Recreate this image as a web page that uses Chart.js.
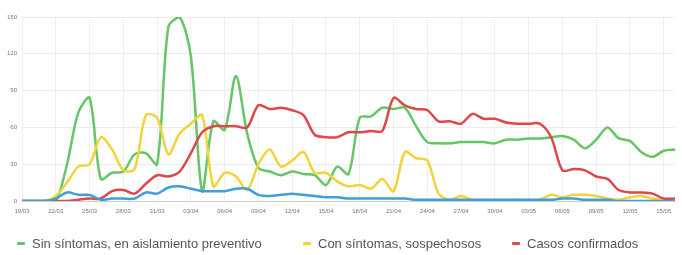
<!DOCTYPE html>
<html>
<head>
<meta charset="utf-8">
<script src="https://cdn.jsdelivr.net/npm/chart.js@4/dist/chart.umd.min.js"></script>
<style>
html,body{margin:0;padding:0;background:#fff;}
#wrap{position:relative;width:682px;height:255px;overflow:hidden;}
#c{position:absolute;left:0;top:0;}
#legend{position:absolute;left:0;top:234px;width:682px;height:18px;
  font-family:"Liberation Sans", Arial, Helvetica, sans-serif;font-size:13px;color:#555;white-space:nowrap;}
.item{position:absolute;top:0;height:18px;display:flex;align-items:center;}
.mark{display:inline-block;width:8px;height:3px;margin-right:7px;border-radius:1px;}
</style>
</head>
<body>
<div id="wrap"><canvas id="c" width="682" height="255"></canvas><div id="legend"></div></div>
<script>
const labels = ["19/03","20/03","21/03","22/03","23/03","24/03","25/03","26/03","27/03","28/03","29/03","30/03","31/03",
"01/04","02/04","03/04","04/04","05/04","06/04","07/04","08/04","09/04","10/04","11/04","12/04","13/04","14/04","15/04","16/04","17/04","18/04","19/04","20/04","21/04","22/04","23/04","24/04","25/04","26/04","27/04","28/04","29/04","30/04",
"01/05","02/05","03/05","04/05","05/05","06/05","07/05","08/05","09/05","10/05","11/05","12/05","13/05","14/05","15/05","16/05"];

const sinSintomas = [0,0,0,0,30,72,84,18,23,24,38,39,30,142,150,118,8,65,58,102,55,27,24,21,24,22,21,13,28,22,68,69,76,75,76,61,48,47,47,48,48,48,47,50,50,51,51,52,53,50,43,50,60,51,49,40,36,41,42];
const conSintomas = [0,0,0,4,15,28,30,52,42,25,26,70,68,38,55,63,70,12,23,20,9,30,42,28,33,40,23,23,16,12,13,10,18,8,40,35,33,6,1,4,1,0,0,0,1,0,1,5,3,5,5,4,2,1,3,4,2,1,0];
const confirmados = [0,0,0,0,0,1,2,2,8,9,6,14,21,20,24,39,56,61,61,61,60,78,75,76,74,70,54,52,52,56,56,57,57,84,78,75,74,65,65,63,71,67,67,64,63,63,63,52,25,26,25,20,18,9,7,7,6,2,2];
const otros = [0,0,0,2,7,5,5,1,2,2,2,7,6,11,12,10,8,8,8,10,10,5,4,5,6,5,4,3,3,2,2,2,2,2,2,1,1,1,1,1,1,1,1,1,1,1,1,1,2,2,1,1,1,0,0,0,0,0,0];

const seriesNames = ["Sin síntomas, en aislamiento preventivo","Con síntomas, sospechosos","Casos confirmados",""];
const yTicks = [0,30,60,90,120,150];

const green = "#64c664", yellow = "#f1d43a", red = "#e0474a", blue = "#3f9edb";

function ds(label, data, color, order){
  return {label, data, borderColor: color, backgroundColor: color, borderWidth: 2.5,
    pointRadius: 0, pointHoverRadius: 0, tension: 0.3, fill: false, order};
}

const chart = new Chart(document.getElementById('c'), {
  type: 'line',
  data: {
    labels: labels,
    datasets: [
      ds(seriesNames[0], sinSintomas, green, 3),
      ds(seriesNames[1], conSintomas, yellow, 2),
      ds(seriesNames[2], confirmados, red, 1),
      ds(seriesNames[3], otros, blue, 0)
    ]
  },
  options: {
    responsive: false,
    animation: false,
    layout: {padding: {top: 17, right: 2, left: 0, bottom: 36}},
    plugins: {
      tooltip: {enabled: false},
      legend: {display: false}
    },
    scales: {
      x: {
        grid: {
          color: (ctx) => (ctx.index % 3 === 0 ? '#efefef' : 'rgba(0,0,0,0)'),
          drawTicks: false
        },
        border: {color: '#cfcfcf'},
        ticks: {
          autoSkip: false, maxRotation: 0, minRotation: 0, padding: 7,
          color: '#777',
          font: {size: 6, family: 'Arial, "Liberation Sans", sans-serif'},
          callback: function(v, i){ return i % 3 === 0 ? labels[i] : ''; }
        },
        afterFit: (s) => { s.height = 18; }
      },
      y: {
        min: 0, max: 150,
        afterBuildTicks: (s) => { s.ticks = yTicks.map(v => ({value: v})); },
        grid: {color: '#ececec', drawTicks: false},
        border: {display: false},
        ticks: {
          padding: 5, color: '#777',
          font: {size: 6, family: 'Arial, "Liberation Sans", sans-serif'}
        },
        afterFit: (s) => { s.width = 22; }
      }
    }
  }
});

// HTML legend built from the chart's datasets (blue series has no legend entry)
const legendLeft = [17, 303, 512];
const leg = document.getElementById('legend');
let k = 0;
chart.data.datasets.forEach(d => {
  if (!d.label) return;
  const it = document.createElement('span'); it.className = 'item'; it.style.left = legendLeft[k++] + 'px';
  const m = document.createElement('span'); m.className = 'mark'; m.style.background = d.borderColor;
  const t = document.createElement('span'); t.textContent = d.label;
  it.appendChild(m); it.appendChild(t); leg.appendChild(it);
});
</script>
</body>
</html>
